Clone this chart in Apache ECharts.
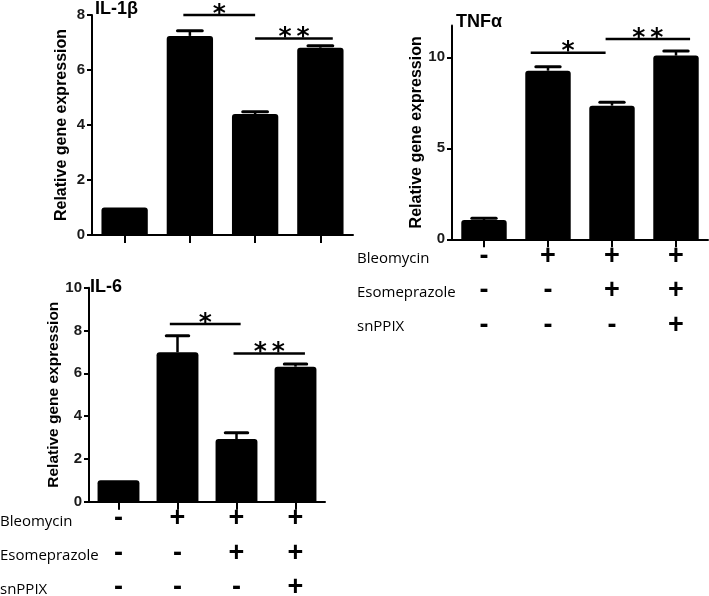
<!DOCTYPE html>
<html>
<head>
<meta charset="utf-8">
<script src="https://cdn.jsdelivr.net/npm/echarts@6/dist/echarts.min.js"></script>
<style>html,body{margin:0;padding:0;background:#fff}#c{width:709px;height:596px}</style>
</head>
<body>
<div id="c"></div>
<script>
// ---- data ----
const categories = ['Control', 'Bleomycin', 'Bleomycin+Esomeprazole', 'Bleomycin+Esomeprazole+snPPIX'];
const bleomycinSigns = ['-', '+', '+', '+'];
const esomeprazoleSigns = ['-', '-', '+', '+'];
const snppixSigns = ['-', '-', '-', '+'];
const rowNames = ['Bleomycin', 'Esomeprazole', 'snPPIX'];

const il1bMean = [1.0, 7.24, 4.40, 6.81];
const il1bSem = [0, 0.19, 0.08, 0.07];
const tnfMean = [1.06, 9.26, 7.34, 10.09];
const tnfSem = [0.09, 0.22, 0.19, 0.26];
const il6Mean = [1.0, 6.98, 2.93, 6.31];
const il6Sem = [0, 0.78, 0.29, 0.12];

// significance brackets: [from (category units), to (category units), y value, label]
const il1bSig = [[0.9, 2.0, 8.0, '*'], [2.0, 3.19, 7.15, '**']];
const tnfSig = [[0.73, 1.9, 10.25, '*'], [1.9, 3.22, 11.0, '**']];
const il6Sig = [[0.87, 2.07, 8.3, '*'], [1.95, 3.16, 6.93, '**']];

const il1bTicks = [0, 2, 4, 6, 8];
const tnfTicks = [0, 5, 10];
const il6Ticks = [0, 2, 4, 6, 8, 10];

// ---- chart ----
const FONT = 'Liberation Sans, Arial, sans-serif';
const chart = echarts.init(document.getElementById('c'), null, {renderer: 'canvas'});

function xAxis(gi, showLabels) {
  return {
    type: 'category', gridIndex: gi, data: categories,
    axisLine: {lineStyle: {color: '#000', width: 2}},
    axisTick: {show: true, alignWithLabel: true, length: 8, lineStyle: {color: '#000', width: 2}},
    axisLabel: {
      show: showLabels, interval: 0, margin: 0, color: '#000',
      fontFamily: FONT, fontWeight: 'bold', fontSize: 27, lineHeight: 34.4,
      formatter: function (v, i) { return bleomycinSigns[i] + '\n' + esomeprazoleSigns[i] + '\n' + snppixSigns[i]; }
    }
  };
}
function yAxis(gi, max, ticks, nameGap, nameSize) {
  return {
    type: 'value', gridIndex: gi, min: 0, max: max,
    splitLine: {show: false},
    axisLine: {show: true, lineStyle: {color: '#000', width: 2}},
    axisTick: {show: true, length: 5, customValues: ticks, lineStyle: {color: '#000', width: 2}},
    axisLabel: {customValues: ticks, color: '#1a1a1a', fontFamily: FONT, fontWeight: 'bold', fontSize: 15, margin: 7},
    name: 'Relative gene expression', nameLocation: 'middle', nameGap: nameGap,
    nameTextStyle: {color: '#000', fontFamily: FONT, fontWeight: 'bold', fontSize: nameSize}
  };
}
function barSeries(gi, mean) {
  return {
    type: 'bar', xAxisIndex: gi, yAxisIndex: gi, data: mean, barWidth: '71%',
    itemStyle: {color: '#000', borderRadius: [3, 3, 0, 0]}, silent: true
  };
}
function errSeries(gi, mean, sem) {
  return {
    type: 'custom', xAxisIndex: gi, yAxisIndex: gi, z: 3, silent: true,
    data: mean.map(function (m, i) { return [i, m + sem[i]]; }),
    renderItem: function (params, api) {
      const i = params.dataIndex;
      if (!(sem[i] > 0)) return null;
      const p1 = api.coord([i, mean[i]]);
      const p2 = api.coord([i, mean[i] + sem[i]]);
      const cw = api.size([1, 0])[0] * 0.19;
      return {type: 'group', children: [
        {type: 'line', shape: {x1: p1[0], y1: p1[1], x2: p2[0], y2: p2[1]}, style: {stroke: '#000', lineWidth: 2.5}},
        {type: 'line', shape: {x1: p2[0] - cw, y1: p2[1], x2: p2[0] + cw, y2: p2[1]}, style: {stroke: '#000', lineWidth: 3, lineCap: 'round'}}
      ]};
    }
  };
}
function sigSeries(gi, sig) {
  return {
    type: 'custom', xAxisIndex: gi, yAxisIndex: gi, z: 4, silent: true, clip: false,
    data: sig.map(function (s) { return [0, s[2]]; }),
    renderItem: function (params, api) {
      const s = sig[params.dataIndex];
      const p = api.coord([0, s[2]]);
      const bw = api.size([1, 0])[0];
      const x1 = p[0] + s[0] * bw, x2 = p[0] + s[1] * bw;
      return {type: 'group', children: [
        {type: 'line', shape: {x1: x1, y1: p[1], x2: x2, y2: p[1]}, style: {stroke: '#000', lineWidth: 2.5}},
        {type: 'text', style: {text: s[3].split('').join('\u2009'), x: (x1 + x2) / 2, y: p[1] - 1,
          align: 'center', verticalAlign: 'middle', font: 'bold 25px "DejaVu Sans"', fill: '#000'}}
      ]};
    }
  };
}

const titleStyle = {color: '#000', fontFamily: FONT, fontWeight: 'bold', fontSize: 18};

chart.setOption({
  animation: false,
  title: [
    {text: 'IL-1β', left: 95, top: 0, padding: 0, textStyle: titleStyle},
    {text: 'TNFα', left: 456, top: 13, padding: 0, textStyle: titleStyle},
    {text: 'IL-6', left: 90, top: 278, padding: 0, textStyle: titleStyle}
  ],
  grid: [
    {left: 92, top: 15, width: 261, height: 220, containLabel: false, outerBoundsMode: 'none'},
    {left: 452, top: 25.4, width: 256, height: 213.9, containLabel: false, outerBoundsMode: 'none'},
    {left: 89, top: 287.7, width: 236, height: 214, containLabel: false, outerBoundsMode: 'none'}
  ],
  xAxis: [xAxis(0, false), xAxis(1, true), xAxis(2, true)],
  yAxis: [yAxis(0, 8, il1bTicks, 22, 16), yAxis(1, 11.75, tnfTicks, 25, 16), yAxis(2, 10, il6Ticks, 19, 15.5)],
  series: [
    barSeries(0, il1bMean), errSeries(0, il1bMean, il1bSem), sigSeries(0, il1bSig),
    barSeries(1, tnfMean), errSeries(1, tnfMean, tnfSem), sigSeries(1, tnfSig),
    barSeries(2, il6Mean), errSeries(2, il6Mean, il6Sem), sigSeries(2, il6Sig)
  ],
  graphic: [].concat(
    rowNames.map(function (t, k) {
      return {type: 'text', x: 357, y: 258.3 + k * 34.4, silent: true,
        style: {text: t, verticalAlign: 'middle', font: '15px "Open Sans"', fill: '#000'}};
    }),
    rowNames.map(function (t, k) {
      return {type: 'text', x: 0, y: 521.7 + k * 34.2, silent: true,
        style: {text: t, verticalAlign: 'middle', font: '15px "Open Sans"', fill: '#000'}};
    })
  )
});
</script>
</body>
</html>
